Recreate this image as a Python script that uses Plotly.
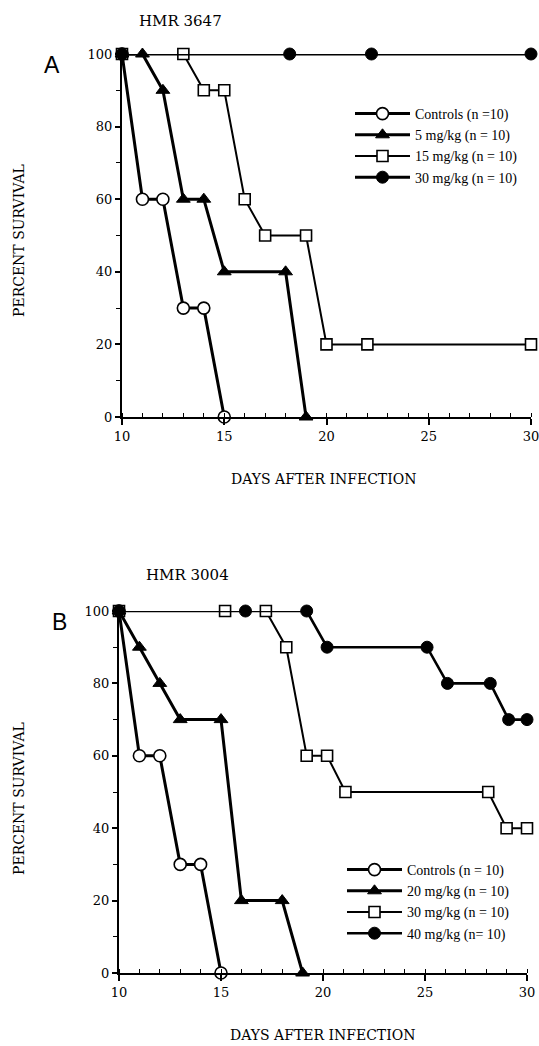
import plotly.graph_objects as go

W, H = 539, 1046

# ---- Panel A: HMR 3647 ----
a_ctrl_x = [10, 11, 12, 13, 14, 15]
a_ctrl_y = [100, 60, 60, 30, 30, 0]
a_5_x = [10, 11, 12, 13, 14, 15, 18, 19]
a_5_y = [100, 100, 90, 60, 60, 40, 40, 0]
a_15_x = [10, 13, 14, 15, 16, 17, 19, 20, 22, 30]
a_15_y = [100, 100, 90, 90, 60, 50, 50, 20, 20, 20]
a_30_x = [10, 18.2, 22.2, 30]
a_30_y = [100, 100, 100, 100]
a_names = ["Controls (n =10)", "5 mg/kg (n = 10)", "15 mg/kg (n = 10)", "30 mg/kg (n = 10)"]

# ---- Panel B: HMR 3004 ----
b_ctrl_x = [10, 11, 12, 13, 14, 15]
b_ctrl_y = [100, 60, 60, 30, 30, 0]
b_20_x = [10, 11, 12, 13, 15, 16, 18, 19]
b_20_y = [100, 90, 80, 70, 70, 20, 20, 0]
b_30_x = [10, 15.2, 17.2, 18.2, 19.2, 20.2, 21.1, 28.1, 29, 30]
b_30_y = [100, 100, 100, 90, 60, 60, 50, 50, 40, 40]
b_40_x = [10, 16.2, 19.2, 20.2, 25.1, 26.1, 28.2, 29.1, 30]
b_40_y = [100, 100, 100, 90, 90, 80, 80, 70, 70]
b_names = ["Controls (n = 10)", "20 mg/kg (n = 10)", "30 mg/kg (n = 10)", "40 mg/kg (n= 10)"]

x_ticks = [10, 15, 20, 25, 30]
y_ticks = [0, 20, 40, 60, 80, 100]

SERIF = "DejaVu Serif"
LEG_FONT = "Liberation Serif"

styles = [
    dict(symbol="circle", color="white", lw=1.6, size=12, width=3),
    dict(symbol="triangle-up", color="black", lw=1, size=12, width=3),
    dict(symbol="square", color="white", lw=1.6, size=11, width=2),
    dict(symbol="circle", color="black", lw=1, size=12, width=3),
]
b_widths = [3, 3, 2, 2.6]

fig = go.Figure()

def add(xs, ys, name, st, xa, ya, leg, width):
    fig.add_trace(go.Scatter(
        x=xs, y=ys, name=name, mode="lines+markers",
        xaxis=xa, yaxis=ya, legend=leg, cliponaxis=False,
        line=dict(color="black", width=width),
        marker=dict(symbol=st["symbol"], size=st["size"], color=st["color"],
                    line=dict(color="black", width=st["lw"])),
    ))

for (xs, ys), nm, st in zip([(a_ctrl_x, a_ctrl_y), (a_5_x, a_5_y), (a_15_x, a_15_y), (a_30_x, a_30_y)],
                            a_names, styles):
    add(xs, ys, nm, st, "x", "y", "legend", st["width"])

for (xs, ys), nm, st, w in zip([(b_ctrl_x, b_ctrl_y), (b_20_x, b_20_y), (b_30_x, b_30_y), (b_40_x, b_40_y)],
                               b_names, styles, b_widths):
    add(xs, ys, nm, st, "x2", "y2", "legend2", w)

def px_x(p):
    return p / W

def px_y(p):
    return 1 - p / H

xaxis_common = dict(
    range=[10, 30], tickvals=x_ticks, ticks="outside", ticklen=6, tickwidth=1.5,
    tickcolor="black", showline=True, linewidth=2, linecolor="black",
    showgrid=False, zeroline=False, fixedrange=True, ticklabeloverflow="allow",
    tickfont=dict(family=SERIF, size=13, color="black"),
    minor=dict(dtick=1, ticks="inside", ticklen=4, tickwidth=1.2, tickcolor="black", showgrid=False),
)
yaxis_common = dict(
    range=[0, 100], tickvals=y_ticks, ticks="outside", ticklen=5, tickwidth=1.5,
    tickcolor="black", showline=True, linewidth=2, linecolor="black",
    showgrid=False, zeroline=False, fixedrange=True, ticklabeloverflow="allow",
    tickfont=dict(family=SERIF, size=13, color="black"),
    minor=dict(dtick=10, ticks="outside", ticklen=4, tickwidth=1.2, tickcolor="black", showgrid=False),
)

fig.update_layout(
    width=W, height=H, margin=dict(l=0, r=0, t=0, b=0, autoexpand=False),
    paper_bgcolor="white", plot_bgcolor="white",
    xaxis=dict(domain=[px_x(122), px_x(531)], anchor="y", **xaxis_common),
    yaxis=dict(domain=[px_y(417), px_y(54)], anchor="x", **yaxis_common),
    xaxis2=dict(domain=[px_x(119), px_x(527)], anchor="y2", **xaxis_common),
    yaxis2=dict(domain=[px_y(973), px_y(611)], anchor="x2", **yaxis_common),
    legend=dict(x=px_x(350), y=px_y(98), xanchor="left", yanchor="top",
                font=dict(family=LEG_FONT, size=14, color="black"),
                bgcolor="rgba(0,0,0,0)", itemwidth=55, tracegroupgap=0),
    legend2=dict(x=px_x(342), y=px_y(854), xanchor="left", yanchor="top",
                 font=dict(family=LEG_FONT, size=14, color="black"),
                 bgcolor="rgba(0,0,0,0)", itemwidth=55, tracegroupgap=0),
    showlegend=True,
)

ann = []
def text(x, y, s, size, family=SERIF, angle=0):
    ann.append(dict(x=px_x(x), y=px_y(y), xref="paper", yref="paper", text=s,
                    showarrow=False, xanchor="center", yanchor="middle", textangle=angle,
                    font=dict(family=family, size=size, color="black")))

text(180, 21, "HMR 3647", 15)
text(188, 575, "HMR 3004", 15)
text(52, 65, "A", 23, family="Liberation Sans")
text(59, 622, "B", 23, family="Liberation Sans")
text(19, 241, "PERCENT SURVIVAL", 14, angle=-90)
text(19, 799, "PERCENT SURVIVAL", 14, angle=-90)
text(323, 479, "DAYS AFTER INFECTION", 14)
text(322, 1035, "DAYS AFTER INFECTION", 14)
fig.update_layout(annotations=ann)

fig.write_html("out.html")
